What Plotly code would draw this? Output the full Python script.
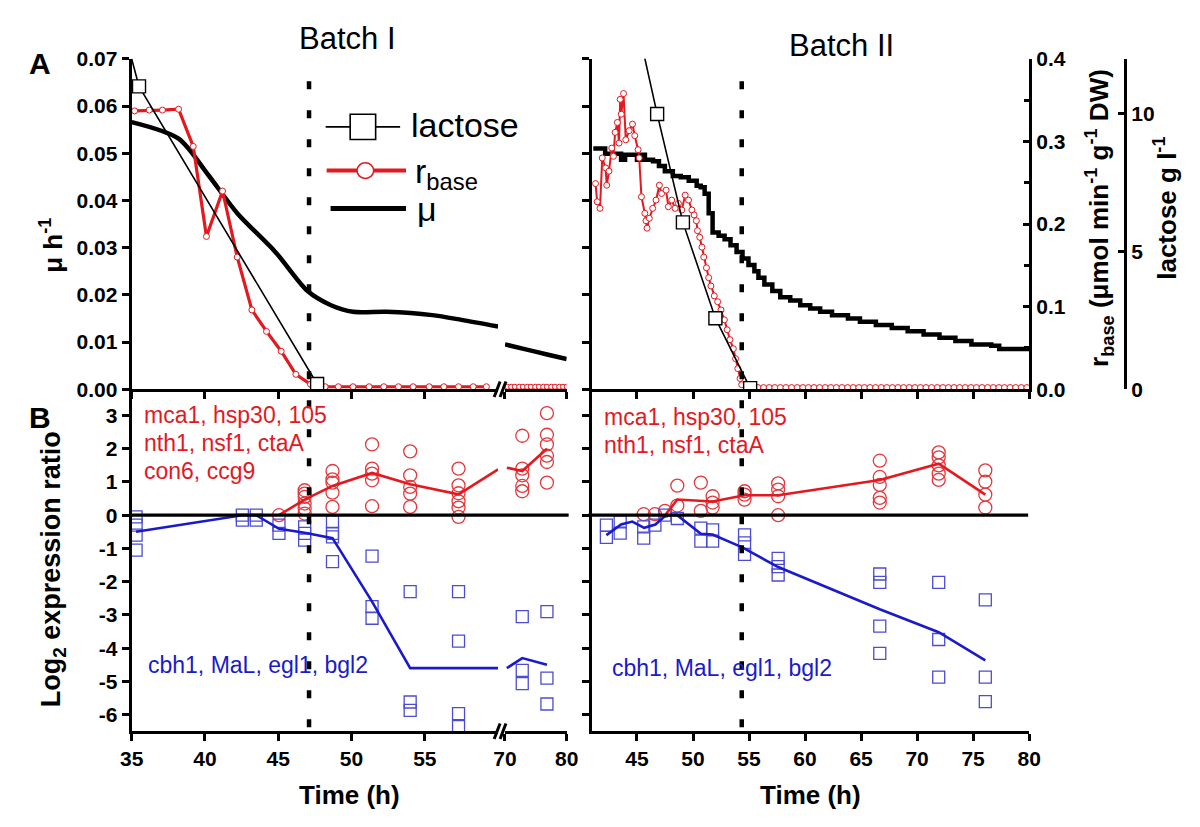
import plotly.graph_objects as go

# page is 1200x827; body keeps the browser's default 8px margin, so the figure is 1184x811
PAGE_W, PAGE_H = 1200, 827
OFF = 8
W, H = PAGE_W - 2 * OFF, PAGE_H - 2 * OFF
FONT = "Liberation Sans, Arial, sans-serif"
RED = "#e3191f"
RED_M = "#e5383c"
BLUE = "#1a1acb"
BLUE_M = "#4b4bd3"

# ================= Panel A : Batch I =================
muI_t = [35.0, 38.2, 40.2, 42.2, 44.8, 47.0, 48.6, 50.1, 52.4, 55.5, 57.5, 60.0]
muI_v = [0.0566, 0.0531, 0.0455, 0.0373, 0.0291, 0.0208, 0.0178, 0.0164, 0.0164, 0.0157, 0.0147, 0.0133]
muI_t2 = [70.0, 73.2, 77.0, 80.0]
muI_v2 = [0.0095, 0.0085, 0.0073, 0.0064]
rI_t = [35.2, 36.2, 37.1, 38.2, 39.2, 40.1, 41.2, 42.2, 43.2, 44.2, 45.2, 46.2, 47.2,
        48.2, 49.1, 50.1, 51.2, 52.2, 53.2, 54.2, 55.3, 56.3, 57.3, 58.3, 59.2]
rI_v = [0.337, 0.338, 0.338, 0.339, 0.294, 0.185, 0.240, 0.160, 0.096, 0.070, 0.046, 0.018, 0.006,
        0.003, 0.003, 0.003, 0.003, 0.003, 0.003, 0.003, 0.003, 0.003, 0.003, 0.003, 0.003]
rI_t2 = [70.4, 71.0, 71.6, 72.3, 72.9, 73.6, 74.2, 74.9, 75.5, 76.2, 76.8, 77.5, 78.1, 78.8, 79.4, 80.0]
rI_v2 = [0.003, 0.003, 0.003, 0.003, 0.003, 0.003, 0.003, 0.003, 0.003, 0.003, 0.003, 0.003, 0.003, 0.003, 0.003, 0.003]
lacI_t = [34.8, 35.5, 47.65]
lacI_v = [12.4, 11.0, 0.19]

# ================= Panel A : Batch II =================
muII_t = [41.1, 41.81, 42.16, 43.58, 43.94, 45.0, 45.36, 45.71, 46.43, 46.96, 47.49, 48.2, 48.91,
          49.62, 50.33, 50.69, 51.04, 51.4, 51.75, 52.29, 52.82, 53.35, 53.89, 54.42, 54.95, 55.48,
          55.84, 56.37, 57.08, 57.79, 58.68, 59.57, 60.46, 61.35, 62.41, 63.83, 64.9, 66.32, 67.74,
          69.16, 70.58, 72.0, 73.42, 74.85, 76.62, 77.33, 80.0]
muII_v = [0.0510, 0.0510, 0.0499, 0.0486, 0.0497, 0.0486, 0.0497, 0.0486, 0.0483, 0.0473, 0.0462,
          0.0452, 0.0449, 0.0442, 0.0431, 0.0428, 0.0414, 0.0373, 0.0332, 0.0325, 0.0318, 0.0305,
          0.0291, 0.0277, 0.0263, 0.0250, 0.0236, 0.0222, 0.0208, 0.0195, 0.0188, 0.0178, 0.0171,
          0.0164, 0.0157, 0.0150, 0.0143, 0.0136, 0.0130, 0.0123, 0.0116, 0.0109, 0.0102, 0.0095,
          0.0092, 0.0085, 0.0085]
rII_t = [41.3, 41.45, 41.7, 41.9, 42.2, 42.3, 42.5, 42.75, 42.9, 43.05, 43.25, 43.4, 43.5, 43.6,
         43.8, 44.0, 44.3, 44.6, 44.8, 45.1, 45.2, 45.4, 45.7, 45.8, 45.9, 46.1, 46.4, 46.7, 47.0,
         47.2, 47.6, 47.8, 48.1, 48.4, 48.7, 49.0, 49.3, 49.6, 49.9, 50.1, 50.3, 50.4, 50.6, 50.8,
         50.96, 51.2, 51.4, 51.6, 51.9, 52.2, 52.5, 52.8, 53.05, 53.3, 53.6, 53.8, 54.0, 54.2, 54.35,
         54.8, 55.3, 55.8, 56.3, 56.8, 57.3, 57.8, 58.3, 58.8, 59.3, 59.8, 60.3, 60.8, 61.3, 61.8,
         62.3, 62.8, 63.3, 63.8, 64.3, 64.8, 65.3, 65.8, 66.3, 66.8, 67.3, 67.8, 68.3, 68.8, 69.3,
         69.8, 70.3, 70.8, 71.3, 71.8, 72.3, 72.8, 73.3, 73.8, 74.3, 74.8, 75.3, 75.8, 76.3, 76.8,
         77.3, 77.8, 78.3, 78.8, 79.3, 79.8]
rII_v = [0.249, 0.227, 0.219, 0.280, 0.268, 0.247, 0.264, 0.292, 0.282, 0.311, 0.323, 0.298, 0.351,
         0.333, 0.358, 0.302, 0.313, 0.321, 0.307, 0.290, 0.280, 0.233, 0.213, 0.204, 0.195, 0.207,
         0.219, 0.229, 0.247, 0.237, 0.241, 0.221, 0.229, 0.219, 0.225, 0.217, 0.235, 0.229, 0.217,
         0.211, 0.204, 0.192, 0.184, 0.172, 0.160, 0.147, 0.135, 0.125, 0.113, 0.106, 0.096, 0.084,
         0.072, 0.060, 0.049, 0.037, 0.025, 0.013, 0.0055,
         0.002, 0.002, 0.002, 0.002, 0.002, 0.002, 0.002, 0.002, 0.002, 0.002, 0.002, 0.002, 0.002,
         0.002, 0.002, 0.002, 0.002, 0.002, 0.002, 0.002, 0.002, 0.002, 0.002, 0.002, 0.002, 0.002,
         0.002, 0.002, 0.002, 0.002, 0.002, 0.002, 0.002, 0.002, 0.002, 0.002, 0.002, 0.002, 0.002,
         0.002, 0.002, 0.002, 0.002, 0.002, 0.002, 0.002, 0.002, 0.002, 0.002, 0.002, 0.002, 0.002]
lacII_t = [45.0, 46.8, 49.1, 52.0, 55.1]
lacII_v = [13.3, 10.0, 6.06, 2.58, 0.04]

# ================= Panel B : Batch I =================
upI_t = [45.05, 46.8, 48.7, 51.4, 54.0, 57.3]
upI_vals = [[0.0], [0.75, 0.65, 0.55, 0.35, 0.2, 0.05], [1.33, 1.08, 0.98, 0.68, 0.25],
            [2.13, 1.40, 1.25, 1.05, 0.27], [1.92, 1.2, 0.85, 0.65, 0.25],
            [1.4, 0.9, 0.66, 0.42, 0.23, -0.05]]
upI_t2 = [72.8, 76.8]
upI_vals2 = [[2.39, 1.4, 1.2, 0.88, 0.72], [3.07, 2.42, 2.13, 1.79, 1.6, 0.98]]
upI_line_t = [45.05, 46.8, 48.7, 51.4, 54.0, 57.3, 60.0]
upI_line_v = [0.0, 0.47, 0.88, 1.27, 0.93, 0.63, 1.38]
upI_line_t2 = [70.3, 72.8, 76.8]
upI_line_v2 = [1.43, 1.33, 2.0]

dnI_t = [35.3, 42.55, 43.5, 45.05, 46.8, 48.7, 51.4, 54.0, 57.3]
dnI_vals = [[-0.05, -0.3, -0.6, -1.05], [0.0, -0.15], [0.0, -0.15], [-0.3, -0.55],
            [-0.35, -0.55, -0.75], [-0.2, -0.55, -0.65, -1.4], [-1.23, -2.75, -3.1],
            [-2.3, -5.62, -5.87], [-2.3, -3.79, -5.97, -6.36]]
dnI_t2 = [72.8, 76.8]
dnI_vals2 = [[-3.05, -4.67, -5.07], [-2.9, -4.9, -5.68]]
dnI_line_t = [35.3, 42.55, 43.5, 45.05, 46.8, 48.7, 51.4, 54.0, 57.3, 60.0]
dnI_line_v = [-0.5, 0.0, 0.0, -0.41, -0.53, -0.69, -2.6, -4.6, -4.6, -4.6]
dnI_line_t2 = [70.3, 72.8, 76.8]
dnI_line_v2 = [-4.6, -4.3, -4.5]

# ================= Panel B : Batch II =================
upII_t = [45.6, 46.6, 47.5, 48.6, 50.7, 51.75, 54.6, 57.6, 66.67, 71.93, 76.09]
upII_vals = [[0.03], [0.03], [0.13], [0.89, 0.29], [0.98, 0.13], [0.57, 0.38, 0.23],
             [0.72, 0.62, 0.47], [0.96, 0.77, 0.57, 0.0], [1.64, 1.15, 0.91, 0.52, 0.38],
             [1.89, 1.74, 1.5, 1.25, 1.06], [1.35, 1.01, 0.62, 0.23]]
upII_line_t = [47.56, 48.6, 51.75, 54.6, 57.6, 66.67, 71.93, 76.09]
upII_line_v = [0.02, 0.47, 0.41, 0.6, 0.6, 1.06, 1.55, 0.62]

dnII_t = [42.27, 43.5, 45.6, 46.6, 47.5, 48.6, 50.7, 51.75, 54.6, 57.6, 66.67, 71.93, 76.09]
dnII_vals = [[-0.3, -0.67], [-0.2, -0.54], [-0.35, -0.69], [-0.3], [0.0], [-0.1], [-0.39, -0.78],
             [-0.44, -0.78], [-0.59, -0.83, -1.18], [-1.3, -1.55, -1.8],
             [-1.77, -2.02, -3.34, -4.16], [-2.02, -3.74, -4.87], [-2.55, -4.87, -5.61]]
dnII_line_t = [42.27, 43.58, 44.58, 45.64, 46.64, 47.56, 48.56, 50.7, 51.75, 54.4, 57.6, 66.67, 71.93, 76.09]
dnII_line_v = [-0.6, -0.28, -0.19, -0.38, -0.28, -0.01, 0.01, -0.56, -0.58, -0.97, -1.56, -2.83, -3.52, -4.37]

depletion_I = 47.1
depletion_II = 54.35

xticks_I = [35, 40, 45, 50, 55]
xticks_I2 = [70, 80]
xticks_II = [45, 50, 55, 60, 65, 70, 75, 80]
yticks_B = [-6, -5, -4, -3, -2, -1, 0, 1, 2, 3]
yticks_B_text = ["-6", "-5", "-4", "-3", "-2", "-1", "0", "1", "2", "3"]


def flat(ts, vals):
    xs = [t for t, vs in zip(ts, vals) for _ in vs]
    ys = [v for vs in vals for v in vs]
    return xs, ys


def fx(p):  # page pixel -> paper fraction
    return (p - OFF) / W


def fy(p):
    return 1 - (p - OFF) / H


fig = go.Figure()


def line_tr(x, y, xa, ya, color, width, shape="linear", smoothing=None):
    kw = dict(shape=shape, color=color, width=width)
    if smoothing is not None:
        kw["smoothing"] = smoothing
    return go.Scatter(x=x, y=y, xaxis=xa, yaxis=ya, mode="lines", line=kw,
                      showlegend=False, hoverinfo="skip")


fig.add_trace(line_tr(muI_t, muI_v, "x", "y", "black", 4.5, "spline", 0.8))
fig.add_trace(line_tr(muI_t2, muI_v2, "x2", "y", "black", 4.5, "spline", 0.8))
fig.add_trace(go.Scatter(x=rI_t, y=rI_v, xaxis="x", yaxis="y2", mode="lines+markers",
                         line=dict(color=RED, width=3.2),
                         marker=dict(symbol="circle", size=6, color="white", line=dict(color=RED, width=1)),
                         showlegend=False))
fig.add_trace(go.Scatter(x=rI_t2, y=rI_v2, xaxis="x2", yaxis="y2", mode="lines+markers",
                         line=dict(color=RED, width=1.5),
                         marker=dict(symbol="circle", size=5, color="white", line=dict(color=RED, width=1)),
                         showlegend=False))
fig.add_trace(go.Scatter(x=lacI_t, y=lacI_v, xaxis="x", yaxis="y3", mode="lines+markers",
                         line=dict(color="black", width=1.6),
                         marker=dict(symbol="square", size=13, color="white", line=dict(color="black", width=1.4)),
                         showlegend=False))

fig.add_trace(line_tr(muII_t, muII_v, "x3", "y4", "black", 4.5, "hv"))
fig.add_trace(go.Scatter(x=rII_t, y=rII_v, xaxis="x3", yaxis="y5", mode="lines+markers",
                         line=dict(color=RED, width=2),
                         marker=dict(symbol="circle", size=6, color="white", line=dict(color=RED, width=1)),
                         showlegend=False))
fig.add_trace(go.Scatter(x=lacII_t, y=lacII_v, xaxis="x3", yaxis="y6", mode="lines+markers",
                         line=dict(color="black", width=1.6),
                         marker=dict(symbol="square", size=13, color="white", line=dict(color="black", width=1.4)),
                         showlegend=False))


def pts(ts, vals, xa, ya, sym, color):
    x, y = flat(ts, vals)
    return go.Scatter(x=x, y=y, xaxis=xa, yaxis=ya, mode="markers",
                      marker=dict(symbol=sym + "-open", size=13 if sym == "circle" else 12,
                                  color=color, line=dict(width=1.3)),
                      showlegend=False)


fig.add_trace(pts(upI_t, upI_vals, "x4", "y7", "circle", RED_M))
fig.add_trace(pts(upI_t2, upI_vals2, "x5", "y7", "circle", RED_M))
fig.add_trace(pts(dnI_t, dnI_vals, "x4", "y7", "square", BLUE_M))
fig.add_trace(pts(dnI_t2, dnI_vals2, "x5", "y7", "square", BLUE_M))
fig.add_trace(line_tr(upI_line_t, upI_line_v, "x4", "y7", RED, 2.6))
fig.add_trace(line_tr(upI_line_t2, upI_line_v2, "x5", "y7", RED, 2.6))
fig.add_trace(line_tr(dnI_line_t, dnI_line_v, "x4", "y7", BLUE, 2.6))
fig.add_trace(line_tr(dnI_line_t2, dnI_line_v2, "x5", "y7", BLUE, 2.6))

fig.add_trace(pts(upII_t, upII_vals, "x6", "y8", "circle", RED_M))
fig.add_trace(pts(dnII_t, dnII_vals, "x6", "y8", "square", BLUE_M))
fig.add_trace(line_tr(upII_line_t, upII_line_v, "x6", "y8", RED, 2.6))
fig.add_trace(line_tr(dnII_line_t, dnII_line_v, "x6", "y8", BLUE, 2.6))

TICKFONT = dict(family=FONT, size=21, color="black", weight="bold")
base_ax = dict(showline=True, linecolor="black", linewidth=3, ticks="outside", ticklen=7,
               tickwidth=2.5, tickcolor="black", showgrid=False, zeroline=False,
               tickfont=TICKFONT)

dA = [fy(388), fy(48)]
dB = [fy(740), fy(388)]
dL1 = [fx(122), fx(496)]
dL2 = [fx(503), fx(566)]
dR = [fx(592), fx(1038)]

fig.update_layout(
    xaxis=dict(base_ax, domain=dL1, range=[35, 60], anchor="y", tickvals=xticks_I, showticklabels=False),
    xaxis2=dict(base_ax, domain=dL2, range=[70, 80], anchor="y", tickvals=xticks_I2, showticklabels=False),
    xaxis3=dict(base_ax, domain=dR, range=[41, 80], anchor="y4", tickvals=xticks_II, showticklabels=False),
    xaxis4=dict(base_ax, domain=dL1, range=[35, 60], anchor="y7", tickvals=xticks_I),
    xaxis5=dict(base_ax, domain=dL2, range=[70, 80], anchor="y7", tickvals=xticks_I2),
    xaxis6=dict(base_ax, domain=dR, range=[41, 80], anchor="y8", tickvals=xticks_II),
    yaxis=dict(base_ax, domain=dA, range=[0, 0.07], anchor="x", dtick=0.01, tickformat=".2f"),
    yaxis2=dict(overlaying="y", range=[0, 0.4], visible=False),
    yaxis3=dict(overlaying="y", range=[0, 12], visible=False),
    yaxis4=dict(base_ax, domain=dA, range=[0, 0.07], anchor="x3", dtick=0.01, showticklabels=False),
    yaxis5=dict(base_ax, overlaying="y4", side="right", anchor="x3", range=[0, 0.4], dtick=0.1,
                tickformat=".1f", ticks="inside", ticklen=6,
                minor=dict(dtick=0.05, ticks="inside", ticklen=5, tickwidth=2.5, tickcolor="black")),
    yaxis6=dict(base_ax, overlaying="y4", side="right", anchor="free", position=fx(1136),
                range=[0, 12], tickvals=[0, 5, 10], ticks="inside", ticklen=6),
    yaxis7=dict(base_ax, domain=dB, range=[-6.5, 3.79], anchor="x4", tickvals=yticks_B,
                ticktext=yticks_B_text),
    yaxis8=dict(base_ax, domain=dB, range=[-6.5, 3.79], anchor="x6", tickvals=yticks_B,
                showticklabels=False),
)

shapes = []
shapes.append(dict(type="line", xref="paper", yref="y7", x0=fx(122), x1=fx(568), y0=0, y1=0,
                   line=dict(color="black", width=3.2)))
shapes.append(dict(type="line", xref="paper", yref="y8", x0=fx(588), x1=fx(1037), y0=0, y1=0,
                   line=dict(color="black", width=3.2)))
for xr, xv in (("x", depletion_I), ("x3", depletion_II)):
    shapes.append(dict(type="line", xref=xr, yref="paper", x0=xv, x1=xv, y0=fy(736), y1=fy(57),
                       line=dict(color="black", width=4.5, dash="8px,21px")))
for yb in (388, 740):
    for dx in (0, 6):
        shapes.append(dict(type="line", xref="paper", yref="paper",
                           x0=fx(492 + dx), y0=fy(yb + 8), x1=fx(498 + dx), y1=fy(yb - 8),
                           line=dict(color="black", width=3)))
shapes.append(dict(type="line", xref="paper", yref="paper", x0=fx(320), x1=fx(396), y0=fy(118), y1=fy(118),
                   line=dict(color="black", width=1.6)))
shapes.append(dict(type="rect", xref="paper", yref="paper", x0=fx(345), x1=fx(371), y0=fy(131), y1=fy(105),
                   fillcolor="white", line=dict(color="black", width=1.6)))
shapes.append(dict(type="line", xref="paper", yref="paper", x0=fx(321), x1=fx(402), y0=fy(163), y1=fy(163),
                   line=dict(color=RED, width=4)))
shapes.append(dict(type="circle", xref="paper", yref="paper", x0=fx(352), x1=fx(369), y0=fy(171), y1=fy(155),
                   fillcolor="white", line=dict(color=RED, width=1.5)))
shapes.append(dict(type="line", xref="paper", yref="paper", x0=fx(325), x1=fx(402), y0=fy(202), y1=fy(202),
                   line=dict(color="black", width=5)))
fig.update_layout(shapes=shapes)

ann = []


def txt(text, x, y, size, color="black", xanchor="center", yanchor="middle", angle=0):
    ann.append(dict(text=text, x=fx(x), y=fy(y), xref="paper", yref="paper", showarrow=False,
                    xanchor=xanchor, yanchor=yanchor, textangle=angle,
                    font=dict(family=FONT, size=size, color=color)))


txt("<b>A</b>", 28, 53, 30)
txt("<b>B</b>", 28, 417, 30)
txt("Batch I", 342, 27, 31)
txt("Batch II", 847, 34, 31)
txt("lactose", 405, 116, 34, xanchor="left")
txt("r<sub>base</sub>", 409, 166, 34, xanchor="left")
txt("μ", 411, 203, 34, xanchor="left")
txt("<b>μ h<sup>-1</sup></b>", 40, 240, 26, angle=-90)
txt("<b>Log<sub>2</sub> expression ratio</b>", 42, 573, 27, angle=-90)
txt("<b>Time (h)</b>", 344, 806, 26)
txt("<b>Time (h)</b>", 815, 806, 26)
txt("<b>r<sub>base</sub> (μmol min<sup>-1</sup> g<sup>-1</sup> DW)</b>", 1110, 212, 26, angle=-90)
txt("<b>lactose g l<sup>-1</sup></b>", 1177, 202, 26, angle=-90)
for i, s in enumerate(["mca1, hsp30, 105", "nth1, nsf1, ctaA", "con6, ccg9"]):
    txt(s, 133, 415 + 28.5 * i, 23, RED, xanchor="left")
for i, s in enumerate(["mca1, hsp30, 105", "nth1, nsf1, ctaA"]):
    txt(s, 602, 417 + 28.5 * i, 23, RED, xanchor="left")
txt("cbh1, MaL, egl1, bgl2", 137, 672, 23, BLUE, xanchor="left")
txt("cbh1, MaL, egl1, bgl2", 610, 675, 23, BLUE, xanchor="left")
fig.update_layout(annotations=ann)

fig.update_layout(width=W, height=H, autosize=False, margin=dict(l=0, r=0, t=0, b=0),
                  paper_bgcolor="white", plot_bgcolor="rgba(0,0,0,0)", showlegend=False,
                  font=dict(family=FONT, color="black"))

fig.write_html("out.html", config={"displayModeBar": False})
